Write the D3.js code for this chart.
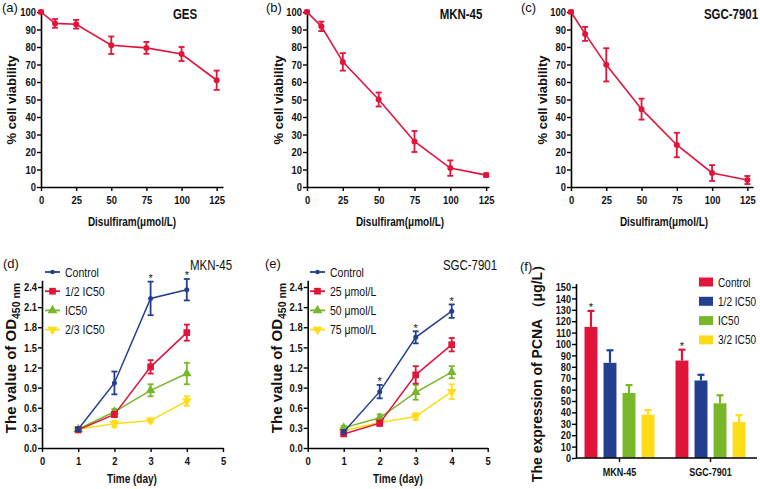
<!DOCTYPE html>
<html><head><meta charset="utf-8">
<script src="https://cdn.jsdelivr.net/npm/d3@7"></script>
<style>
body{margin:0;background:#fff;}
svg{display:block;font-family:"Liberation Sans",Arial,sans-serif;}
</style></head>
<body><svg id="chart" width="760" height="489"></svg>
<script>
// ---------- DATA ----------
const doseX = [0, 10, 25, 50, 75, 100, 125];
const doseTicks = [0, 25, 50, 75, 100, 125];
const gesMean = [100, 93.5, 93, 81, 79.5, 76, 61];
const gesErr  = [0.8, 2.5, 2.5, 5, 3.4, 4, 5.5];
const mknMean = [100, 91.8, 71.5, 50, 26, 10.8, 6.8];
const mknErr  = [0.8, 2.7, 5, 4, 6, 4.4, 1];
const sgcMean = [100, 87.5, 69.8, 44.5, 24, 8, 4];
const sgcErr  = [0.8, 4, 9.5, 6, 7, 4.5, 2.3];
const viabTicks = [0,10,20,30,40,50,60,70,80,90,100];

const days = [1, 2, 3, 4];
const dayTicks = [0, 1, 2, 3, 4, 5];
const odTicks = [0, 0.3, 0.6, 0.9, 1.2, 1.5, 1.8, 2.1, 2.4];
const dLabels = ["Control", "1/2 IC50", "IC50", "2/3 IC50"];
const dCtrl  = [0.28, 0.97, 2.23, 2.36]; const dCtrlErr  = [0.03, 0.17, 0.25, 0.16];
const dHalf  = [0.27, 0.50, 1.21, 1.72]; const dHalfErr  = [0.03, 0.04, 0.10, 0.12];
const dIc50  = [0.28, 0.54, 0.86, 1.11]; const dIc50Err  = [0.02, 0.04, 0.09, 0.16];
const dTwo3  = [0.28, 0.36, 0.41, 0.70]; const dTwo3Err  = [0.02, 0.05, 0.03, 0.07];
const dStars = [false, false, true, true];

const eLabels = ["Control", "25 μmol/L", "50 μmol/L", "75 μmol/L"];
const eCtrl = [0.24, 0.84, 1.65, 2.04]; const eCtrlErr = [0.03, 0.10, 0.09, 0.10];
const e25   = [0.21, 0.37, 1.09, 1.54]; const e25Err   = [0.03, 0.04, 0.13, 0.10];
const e50   = [0.30, 0.45, 0.83, 1.13]; const e50Err   = [0.03, 0.05, 0.11, 0.09];
const e75   = [0.26, 0.38, 0.47, 0.84]; const e75Err   = [0.02, 0.03, 0.05, 0.11];
const eStars = [false, true, true, true];

const fGroups = ["MKN-45", "SGC-7901"];
const fSeries = ["Control", "1/2 IC50", "IC50", "3/2 IC50"];
const fMKN = [115, 83.5, 57, 38];   const fMKNErr = [14, 11, 7, 4];
const fSGC = [85.5, 68, 48, 31.5];  const fSGCErr = [9.5, 5, 7, 6];
const fStars = [true, false, false, false];
const pcnaTicks = d3.range(0, 151, 10);

const RED = "#e1143a", BLUE = "#243f8f", GREEN = "#78b72a", YELLOW = "#ffdc16";
const seriesColors = [BLUE, RED, GREEN, YELLOW];
const barColors = [RED, BLUE, GREEN, YELLOW];
const K = 0.82; // horizontal condensing (Arial Narrow look)

// ---------- HELPERS ----------
const svg = d3.select("#chart");

function narrow(sel, k) {
  sel.each(function () {
    const t = d3.select(this);
    const x = +t.attr("x") || 0, y = +t.attr("y") || 0;
    t.attr("x", null).attr("y", null).attr("transform", `translate(${x},${y}) scale(${k},1)`);
  });
}
function styleAxis(g, fs) {
  g.select(".domain").attr("stroke", "#000").attr("stroke-width", 1.6);
  g.selectAll(".tick line").attr("stroke", "#000").attr("stroke-width", 1.4);
  const t = g.selectAll(".tick text").attr("fill", "#111").attr("font-size", fs).attr("font-weight", "bold")
    .attr("font-family", "'Liberation Sans',Arial,sans-serif");
  narrow(t, K);
}
function text(x, y, s, opt) {
  const t = svg.append("text").text(s)
    .attr("transform", `translate(${x},${y}) scale(${opt.k === undefined ? K : opt.k},1)`)
    .attr("font-size", opt.fs || 13).attr("fill", "#111")
    .attr("font-weight", opt.bold ? "bold" : "normal")
    .attr("text-anchor", opt.anchor || "start");
  return t;
}
function yLabel(x, y, s, fs) {
  return svg.append("text").attr("transform", `translate(${x},${y}) rotate(-90)`)
    .attr("text-anchor", "middle").attr("font-size", fs).attr("font-weight", "bold")
    .attr("fill", "#111").text(s);
}

// ---------- PANELS a-c ----------
function dosePanel(cfg) {
  const x = d3.scaleLinear().domain([0, cfg.xEnd]).range([cfg.x0, cfg.x1]);
  const y = d3.scaleLinear().domain([0, 100]).range([187, 12]);
  const gx = svg.append("g").attr("transform", "translate(0,187)")
    .call(d3.axisBottom(x).tickValues(doseTicks).tickFormat(d3.format("d")).tickSize(4).tickSizeOuter(0).tickPadding(5));
  styleAxis(gx, 11.5);
  const gy = svg.append("g").attr("transform", `translate(${cfg.x0},0)`)
    .call(d3.axisLeft(y).tickValues(viabTicks).tickFormat(d3.format("d")).tickSize(4).tickSizeOuter(0).tickPadding(1));
  styleAxis(gy, 11.5);
  const pts = doseX.map((d, i) => ({ x: d, m: cfg.mean[i], e: cfg.err[i] }));
  svg.append("path").datum(pts).attr("fill", "none").attr("stroke", RED).attr("stroke-width", 1.6)
    .attr("d", d3.line().x(d => x(d.x)).y(d => y(d.m)));
  const eb = svg.append("g").attr("stroke", RED).attr("stroke-width", 1.8);
  pts.forEach(p => {
    eb.append("line").attr("x1", x(p.x)).attr("x2", x(p.x)).attr("y1", y(p.m + p.e)).attr("y2", y(p.m - p.e));
    [p.m + p.e, p.m - p.e].forEach(v => eb.append("line").attr("x1", x(p.x) - 3).attr("x2", x(p.x) + 3).attr("y1", y(v)).attr("y2", y(v)));
  });
  svg.append("g").selectAll("circle").data(pts).join("circle")
    .attr("cx", d => x(d.x)).attr("cy", d => y(d.m)).attr("r", 3).attr("fill", RED);
  text(cfg.lx, 12, cfg.letter, { fs: 13, k: 1 });
  text(cfg.tx, 19, cfg.title, { fs: 14, bold: true, anchor: "middle" });
  text(cfg.xlx, 226, "Disulfiram(μmol/L)", { fs: 12.2, bold: true, anchor: "middle" });
  yLabel(cfg.ylx, 100, "% cell viability", 13);
}
dosePanel({ x0: 41, x1: 223, xEnd: 129.5, mean: gesMean, err: gesErr, letter: "(a)", lx: 2, title: "GES", tx: 185, xlx: 132, ylx: 16 });
dosePanel({ x0: 307, x1: 489, xEnd: 127, mean: mknMean, err: mknErr, letter: "(b)", lx: 266, title: "MKN-45", tx: 461, xlx: 400, ylx: 283 });
dosePanel({ x0: 571, x1: 753, xEnd: 129, mean: sgcMean, err: sgcErr, letter: "(c)", lx: 521, title: "SGC-7901", tx: 731, xlx: 664, ylx: 547 });

// ---------- PANELS d-e ----------
const shapes = [d3.symbolCircle, d3.symbolSquare, d3.symbolTriangle, "down"];
function marker(g, shape, cx, cy, color, small) {
  if (shape === "down") {
    g.append("path").attr("d", d3.symbol(d3.symbolTriangle, 40)()).attr("transform", `translate(${cx},${cy}) rotate(180)`).attr("fill", color);
  } else if (shape === d3.symbolCircle) {
    g.append("circle").attr("cx", cx).attr("cy", cy).attr("r", small ? 2.2 : 2.5).attr("fill", color);
  } else {
    g.append("path").attr("d", d3.symbol(shape, shape === d3.symbolSquare ? 45 : 40)()).attr("transform", `translate(${cx},${cy})`).attr("fill", color);
  }
}
function odPanel(cfg) {
  const x = d3.scaleLinear().domain([0, 5]).range([cfg.x0, cfg.x1]);
  const y = d3.scaleLinear().domain([0, 2.5]).range([448, 280.3]);
  const gx = svg.append("g").attr("transform", "translate(0,448)")
    .call(d3.axisBottom(x).tickValues(dayTicks).tickFormat(d3.format("d")).tickSize(4).tickSizeOuter(0).tickPadding(5));
  styleAxis(gx, 11.5);
  const gy = svg.append("g").attr("transform", `translate(${cfg.x0},0)`)
    .call(d3.axisLeft(y).tickValues(odTicks).tickFormat(d3.format(".1f")).tickSize(4).tickSizeOuter(0).tickPadding(1));
  styleAxis(gy, 11.5);
  [3, 2, 1, 0].forEach(si => {
    const s = cfg.series[si], col = seriesColors[si];
    const pts = days.map((d, i) => ({ x: d, m: s.mean[i], e: s.err[i] }));
    const g = svg.append("g");
    g.append("path").datum(pts).attr("fill", "none").attr("stroke", col).attr("stroke-width", 1.5)
      .attr("d", d3.line().x(d => x(d.x)).y(d => y(d.m)));
    pts.forEach(p => {
      g.append("line").attr("stroke", col).attr("stroke-width", 1.8).attr("x1", x(p.x)).attr("x2", x(p.x)).attr("y1", y(p.m + p.e)).attr("y2", y(p.m - p.e));
      [p.m + p.e, p.m - p.e].forEach(v => g.append("line").attr("stroke", col).attr("stroke-width", 1.8).attr("x1", x(p.x) - 3).attr("x2", x(p.x) + 3).attr("y1", y(v)).attr("y2", y(v)));
      marker(g, shapes[si], x(p.x), y(p.m), col);
    });
    if (si === 0) {
      pts.forEach((p, i) => { if (cfg.stars[i]) text(x(p.x), y(p.m + p.e) + 0.5, "*", { fs: 11, anchor: "middle", k: 1 }); });
    }
  });
  cfg.labels.forEach((lab, i) => {
    const ly = 272 + i * 19.2;
    const g = svg.append("g");
    g.append("line").attr("x1", cfg.legX).attr("x2", cfg.legX + 15).attr("y1", ly).attr("y2", ly).attr("stroke", seriesColors[i]).attr("stroke-width", 1.8);
    marker(g, shapes[i], cfg.legX + 7.5, ly, seriesColors[i], true);
    text(cfg.legX + 20, ly + 4.5, lab, { fs: 12.8 });
  });
  text(cfg.lx, 268, cfg.letter, { fs: 13, k: 1 });
  text(cfg.tx, 270, cfg.title, { fs: 14, anchor: "middle" });
  text(cfg.xlx, 483, "Time (day)", { fs: 12.2, bold: true, anchor: "middle" });
  const yl = yLabel(cfg.ylx, 358, "", 15);
  yl.append("tspan").text("The value of OD");
  yl.append("tspan").attr("font-size", 10.5).attr("dy", 4).text("450 nm");
}
odPanel({ x0: 42, x1: 223, letter: "(d)", lx: 3, title: "MKN-45", tx: 211, xlx: 132, ylx: 16, legX: 45, labels: dLabels, stars: dStars,
  series: [{ mean: dCtrl, err: dCtrlErr }, { mean: dHalf, err: dHalfErr }, { mean: dIc50, err: dIc50Err }, { mean: dTwo3, err: dTwo3Err }] });
odPanel({ x0: 307.7, x1: 487.7, letter: "(e)", lx: 265, title: "SGC-7901", tx: 470, xlx: 398, ylx: 282, legX: 310, labels: eLabels, stars: eStars,
  series: [{ mean: eCtrl, err: eCtrlErr }, { mean: e25, err: e25Err }, { mean: e50, err: e50Err }, { mean: e75, err: e75Err }] });

// ---------- PANEL f ----------
(function () {
  const x0 = d3.scaleBand().domain(fGroups).range([574, 756]).padding(0);
  const x1 = d3.scaleBand().domain(fSeries).range([0, 70]).paddingInner(0.32).paddingOuter(0);
  const y = d3.scaleLinear().domain([0, 153]).range([458, 283.6]);
  const gy = svg.append("g").attr("transform", "translate(576,0)")
    .call(d3.axisLeft(y).tickValues(pcnaTicks).tickSize(4).tickSizeOuter(0).tickPadding(1));
  styleAxis(gy, 11.2);
  const data = [
    { g: fGroups[0], vals: fMKN, errs: fMKNErr },
    { g: fGroups[1], vals: fSGC, errs: fSGCErr }
  ];
  data.forEach(d => {
    const gx0 = x0(d.g) + x0.bandwidth() / 2 - 35;
    fSeries.forEach((s, i) => {
      const bx = gx0 + x1(s), bw = x1.bandwidth(), cx = bx + bw / 2;
      const top = d.vals[i] + d.errs[i];
      svg.append("line").attr("x1", cx).attr("x2", cx).attr("y1", y(d.vals[i])).attr("y2", y(top)).attr("stroke", barColors[i]).attr("stroke-width", 2.2);
      svg.append("line").attr("x1", cx - 3.5).attr("x2", cx + 3.5).attr("y1", y(top)).attr("y2", y(top)).attr("stroke", barColors[i]).attr("stroke-width", 2.2);
      svg.append("rect").attr("x", bx).attr("y", y(d.vals[i])).attr("width", bw).attr("height", y(0) - y(d.vals[i])).attr("fill", barColors[i]);
      if (fStars[i]) text(cx, y(top) + 0.5, "*", { fs: 11, anchor: "middle", k: 1 });
    });
  });
  const gx = svg.append("g").attr("transform", "translate(0,458)")
    .call(d3.axisBottom(x0).tickSize(4).tickSizeOuter(0).tickPadding(6));
  gx.select(".domain").attr("d", "M576,0H757");
  styleAxis(gx, 11);
  fSeries.forEach((s, i) => {
    const ly = 282 + i * 19.3;
    svg.append("rect").attr("x", 699).attr("y", ly - 4.5).attr("width", 14).attr("height", 9).attr("fill", barColors[i]);
    text(718, ly + 4.5, s, { fs: 12.3 });
  });
  text(520, 271, "(f)", { fs: 13, k: 1 });
  yLabel(542, 370, "The expression of PCNA （μg/L）", 14);
})();
</script></body></html>
